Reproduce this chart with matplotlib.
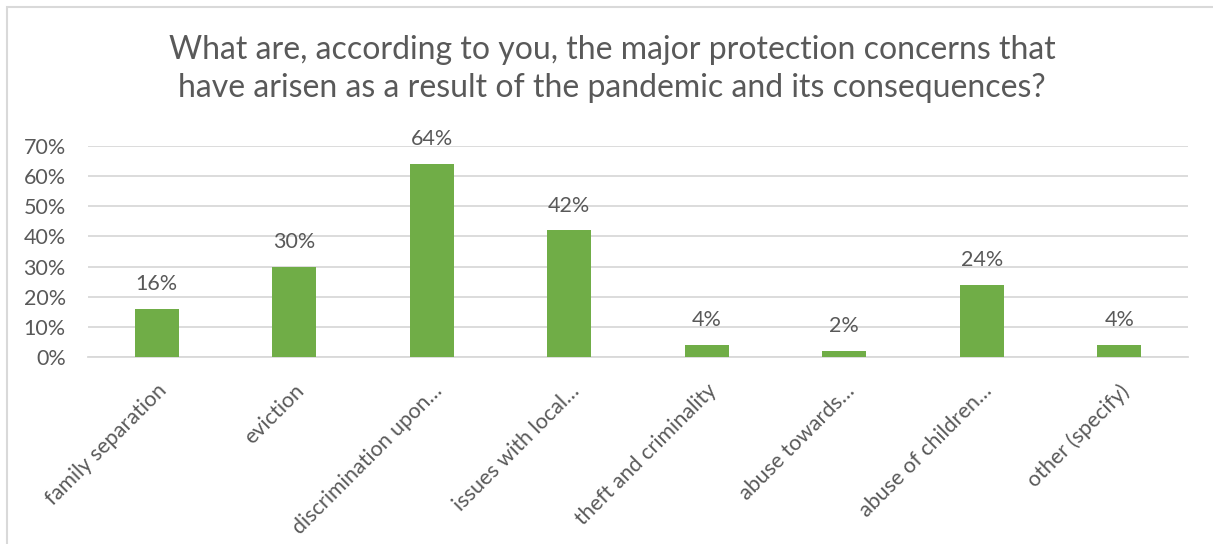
import matplotlib
matplotlib.use("Agg")
import matplotlib.pyplot as plt
from matplotlib.patches import Rectangle

# data
categories = ["family separation", "eviction", "discrimination upon\u2026",
              "issues with local\u2026", "theft and criminality",
              "abuse towards\u2026", "abuse of children\u2026", "other (specify)"]
values = [16, 30, 64, 42, 4, 2, 24, 4]
yticks = [0, 10, 20, 30, 40, 50, 60, 70]
title = ("What are, according to you, the major protection concerns that\n"
         "have arisen as a result of the pandemic and its consequences?")

plt.rcParams['font.family'] = ['Lato', 'DejaVu Sans']
text_color = '#595959'
bar_color = '#70AD47'
grid_color = '#D9D9D9'

W, H = 1213, 544
fig = plt.figure(figsize=(W / 100, H / 100), dpi=100)

# chart area border
fig.patches.append(Rectangle((7 / W, -0.1), 1.2, 1 - 7 / H + 0.1,
                             transform=fig.transFigure, fill=False,
                             edgecolor=grid_color, linewidth=1.5))

ax = fig.add_axes([88 / W, 1 - 357 / H, 1100 / W, (357 - 146) / H])
x = range(len(categories))
ax.bar(x, values, width=0.32, color=bar_color, zorder=3)
for i, v in enumerate(values):
    ax.text(i, v + 4.9, f"{v}%", ha='center', va='bottom',
            fontsize=15.5, color=text_color)

ax.set_xlim(-0.5, len(categories) - 0.5)
ax.set_ylim(0, 70)
ax.set_yticks(yticks)
ax.set_yticklabels([f"{t}%" for t in yticks])
ax.set_xticks(list(x))
ax.set_xticklabels(categories, rotation=45, ha='right', rotation_mode='anchor')
ax.tick_params(axis='both', length=0, labelsize=15.5, labelcolor=text_color)
ax.tick_params(axis='y', pad=16)
ax.tick_params(axis='x', pad=17)
ax.grid(axis='y', color=grid_color, linewidth=1.3, zorder=0)
for s in ['top', 'right', 'left']:
    ax.spines[s].set_visible(False)
ax.spines['bottom'].set_color(grid_color)
ax.spines['bottom'].set_linewidth(1.3)

fig.text(612 / W, 1 - 69 / H, title, ha='center', va='center',
         fontsize=23, color=text_color, linespacing=1.3)

fig.savefig("out.png", dpi=100)
